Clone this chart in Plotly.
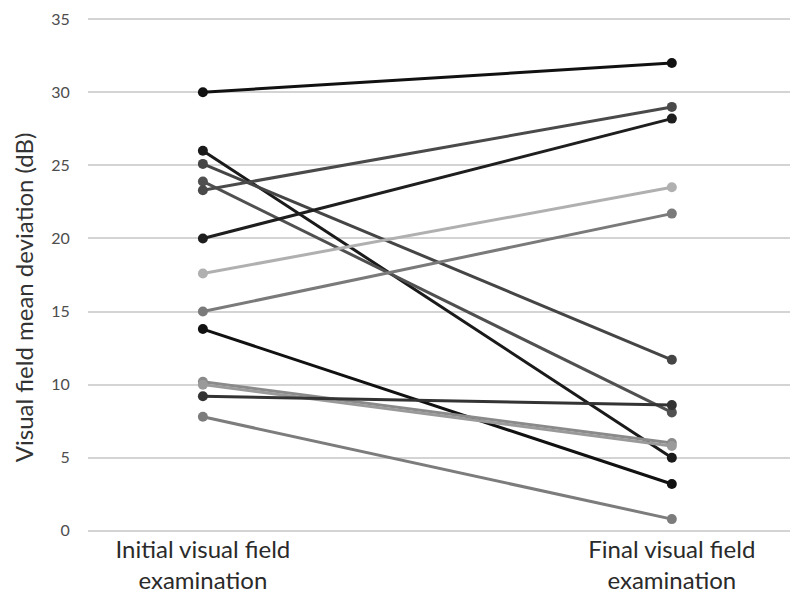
import plotly.graph_objects as go

categories = ["Initial visual field<br>examination", "Final visual field<br>examination"]

initial_md = [30.0, 26.0, 25.1, 23.9, 23.3, 20.0, 17.6, 15.0, 13.8, 10.2, 10.0, 9.2, 7.8]
final_md = [32.0, 5.0, 11.7, 8.1, 29.0, 28.2, 23.5, 21.7, 3.2, 6.0, 5.8, 8.6, 0.8]
line_colors = ["#111111", "#1a1a1a", "#454545", "#505050", "#4a4a4a", "#1e1e1e",
               "#b0b0b0", "#7a7a7a", "#111111", "#8a8a8a", "#9a9a9a", "#333333", "#7c7c7c"]

y_ticks = [0, 5, 10, 15, 20, 25, 30, 35]
y_title = "Visual field mean deviation (dB)"

fig = go.Figure()
for a, b, c in zip(initial_md, final_md, line_colors):
    fig.add_trace(go.Scatter(
        x=categories, y=[a, b], mode="lines+markers",
        line=dict(color=c, width=3),
        marker=dict(color=c, size=10),
        showlegend=False, hoverinfo="y",
    ))

fig.update_layout(
    width=792, height=596,
    margin=dict(l=80, r=10, t=9, b=71),
    paper_bgcolor="white", plot_bgcolor="white",
    font=dict(family="Lato", color="#404040"),
)
fig.update_xaxes(
    type="category", range=[-0.245, 1.252], automargin=False,
    showgrid=False, zeroline=False, showline=False,
    tickfont=dict(size=24, color="#2a2a2a"),
    ticks="",
)
fig.update_yaxes(
    range=[-0.15, 35.15], tickvals=y_ticks, automargin=False,
    showgrid=True, gridcolor="#d4d4d4", gridwidth=1.5,
    zeroline=False, showline=False, ticklabeloverflow="allow",
    tickfont=dict(size=16, color="#4d4d4d"),
    ticks="outside", ticklen=14, tickcolor="rgba(0,0,0,0)",
)
fig.add_annotation(
    text=y_title, textangle=-90, showarrow=False,
    xref="paper", yref="paper", x=0, y=0.457, xanchor="center", yanchor="middle",
    xshift=-65, font=dict(size=24, color="#333333"),
)
fig.write_html("out.html")
